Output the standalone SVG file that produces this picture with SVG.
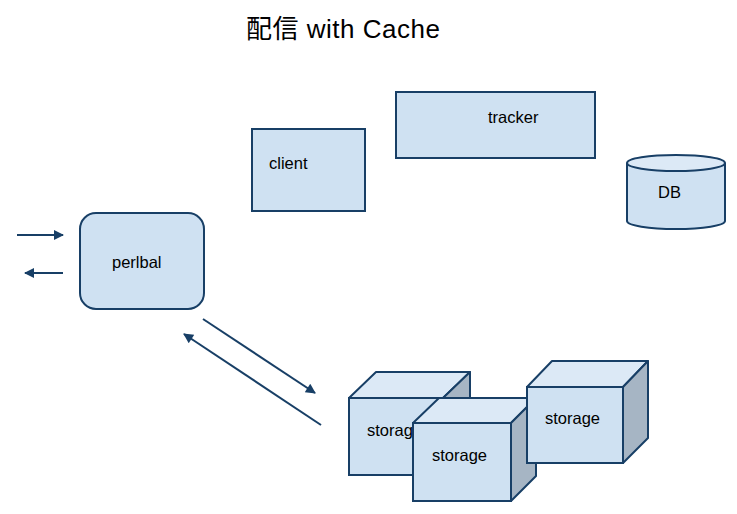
<svg xmlns="http://www.w3.org/2000/svg" width="737" height="514" viewBox="0 0 737 514">
<style>
.box{fill:#cfe1f2;stroke:#183f66;stroke-width:2}
.top{fill:#dce9f6;stroke:#183f66;stroke-width:2;stroke-linejoin:round}
.side{fill:#a6b5c4;stroke:#183f66;stroke-width:2;stroke-linejoin:round}
.lbl{font-family:"Liberation Sans",Arial,sans-serif;font-size:16.5px;fill:#000}
.ttl{font-family:"Liberation Sans","Noto Sans CJK JP",sans-serif;font-size:26px;letter-spacing:0.5px;fill:#000}
.con{stroke:#183f66;stroke-width:2;fill:none;marker-end:url(#ah)}
</style>
<defs>
<marker id="ah" viewBox="0 0 10 10" refX="9" refY="5" markerWidth="6" markerHeight="5" orient="auto" markerUnits="strokeWidth">
<path d="M0,0 L10,5 L0,10 z" fill="#183f66"/>
</marker>
</defs>
<rect width="737" height="514" fill="#fff"/>
<text class="ttl" x="246" y="38">配信 with Cache</text>
<g id="client">
<rect class="box" x="252" y="129" width="113" height="82"/>
<text class="lbl" x="269" y="169">client</text>
</g>
<g id="tracker">
<rect class="box" x="396" y="92" width="199" height="66"/>
<text class="lbl" x="488" y="123">tracker</text>
</g>
<g id="db">
<path class="box" d="M627,163 L627,221 A49,8 0 0 0 725,221 L725,163"/>
<ellipse class="top" cx="676" cy="163" rx="49" ry="8"/>
<text class="lbl" x="658" y="198">DB</text>
</g>
<g id="perlbal">
<rect class="box" x="80" y="213" width="124" height="96" rx="16"/>
<text class="lbl" x="112" y="268">perlbal</text>
</g>
<g id="storage1">
<rect class="box" x="349" y="398" width="94" height="77"/>
<path class="top" d="M349,398 L376,372 L470,372 L443,398 Z"/>
<path class="side" d="M443,398 L470,372 L470,449 L443,475 Z"/>
<text class="lbl" x="367" y="436">storage</text>
</g>
<g id="storage2">
<rect class="box" x="413" y="423" width="98" height="78"/>
<path class="top" d="M413,423 L439,398 L536,398 L511,423 Z"/>
<path class="side" d="M511,423 L536,398 L536,476 L511,501 Z"/>
<text class="lbl" x="432" y="461">storage</text>
</g>
<g id="storage3">
<rect class="box" x="527" y="387" width="96" height="76"/>
<path class="top" d="M527,387 L552,361 L648,361 L623,387 Z"/>
<path class="side" d="M623,387 L648,361 L648,438 L623,463 Z"/>
<text class="lbl" x="545" y="424">storage</text>
</g>
<g id="connectors">
<line class="con" x1="17" y1="235" x2="63" y2="235"/>
<line class="con" x1="63" y1="273" x2="25" y2="273"/>
<line class="con" x1="203" y1="319" x2="315" y2="393"/>
<line class="con" x1="321" y1="425" x2="184" y2="334"/>
</g>
</svg>
